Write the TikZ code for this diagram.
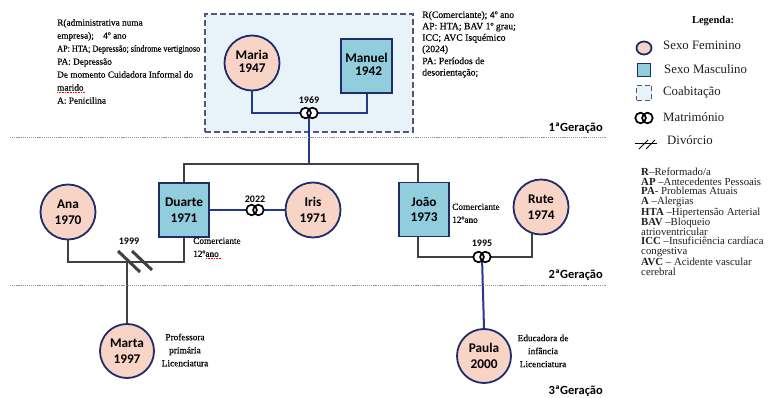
\documentclass[tikz,border=0pt]{standalone}
\usepackage{fontspec}
\usetikzlibrary{shapes.geometric}
\setmainfont{Liberation Serif}
\newfontfamily\carlito{Carlito}
\newfontfamily\notefont{Liberation Serif}[FakeBold=0.35]
\definecolor{femfill}{RGB}{248,212,198}
\definecolor{mascfill}{RGB}{146,205,221}
\definecolor{navyb}{RGB}{30,44,108}
\definecolor{lnavy}{RGB}{36,56,140}
\definecolor{lgray}{RGB}{64,64,64}
\definecolor{cohabfill}{RGB}{232,243,249}
\definecolor{cohabdraw}{RGB}{82,86,122}
\definecolor{sepgray}{RGB}{150,150,150}
\definecolor{legtext}{RGB}{30,30,30}
\newcommand{\namefont}{\carlito\bfseries\fontsize{13.3}{15.5}\selectfont}
\begin{document}
\begin{tikzpicture}[x=1pt,y=-1pt,
  fem/.style={circle,draw=navyb,line width=1.8pt,fill=femfill,minimum size=55pt,inner sep=0pt,align=center,font=\namefont},
  masc/.style={rectangle,draw=navyb,line width=1.8pt,fill=mascfill,minimum width=50pt,minimum height=54pt,inner sep=0pt,align=center,font=\namefont},
  gline/.style={draw=lgray,line width=2.6pt},
  bline/.style={draw=lnavy,line width=2pt},
  yearlbl/.style={font=\carlito\bfseries\fontsize{10}{12}\selectfont,inner sep=0pt},
  note/.style={font=\notefont\fontsize{9.3}{13}\selectfont,inner sep=0pt,align=left},
  gen/.style={font=\carlito\bfseries\fontsize{12.5}{14}\selectfont,inner sep=0pt,anchor=east},
  sepline/.style={draw=sepgray,line width=0.8pt,dash pattern=on 1.2pt off 0.9pt},
  legtxt/.style={font=\fontsize{12.8}{14}\selectfont,inner sep=0pt,anchor=west,text=legtext},
  cohabbox/.style={draw=cohabdraw,fill=cohabfill,line width=2pt,dash pattern=on 6pt off 3pt,inner sep=0pt},
  spell/.style={draw=red,line width=0.5pt,dash pattern=on 0.8pt off 0.8pt},
  rings/.pic={
    \fill[white] (-3.4pt,0pt) circle[radius=5.3pt] (3.4pt,0pt) circle[radius=5.3pt];
    \draw[black,line width=1.7pt] (-3.4pt,0pt) circle[radius=5.3pt] (3.4pt,0pt) circle[radius=5.3pt];
  },
]
\useasboundingbox (0,0) rectangle (771,398);

% ---------- 1st generation ----------
\node[cohabbox,minimum width=208pt,minimum height=118pt] (cohab) at (309,73) {};
\node[fem] (maria) at (252,63) {\raisebox{-3pt}{\begin{tabular}{@{}c@{}}Maria\\[-2pt]1947\end{tabular}}};
\node[masc,minimum width=51pt] (manuel) at (366.5,66) {\raisebox{3pt}{\begin{tabular}{@{}c@{}}Manuel\\[-2pt]\hspace*{4pt}1942\end{tabular}}};
\coordinate (m1) at (309,113);
\coordinate (sib) at (309,164);
\draw[bline] (maria.south) |- (m1) -| (manuel.south);
\draw[bline] (m1) -- (sib);
\pic at (m1) {rings};
\node[yearlbl] (y1969) at (309,100) {1969};

\node[note,anchor=north west] (notemaria) at (57,19) {R(administrativa numa\\empresa);\quad 4º ano\\\scalebox{0.88}[1]{AP: HTA; Depressão; síndrome vertiginoso}\\PA: Depressão\\De momento Cuidadora Informal do\\marido\\A: Penicilina};
\node[note,anchor=north west,font=\notefont\fontsize{9.7}{11.4}\selectfont] (notemanuel) at (422,11) {R(Comerciante); 4º ano\\AP: HTA; BAV 1º grau;\\ICC; AVC Isquémico\\(2024)\\[0.6pt]PA: Períodos de\\desorientação;};

\draw[sepline] (10,137) -- (606,137);
\node[gen] (gen1) at (603,128) {1ªGeração};

% ---------- 2nd generation ----------
\node[fem] (ana) at (68,212) {Ana\\1970};
\node[masc] (duarte) at (184,210) {Duarte\\1971};
\node[fem] (iris) at (313,210) {Iris\\1971};
\node[masc] (joao) at (424,209.5) {João\\1973};
\node[fem] (rute) at (541,207) {Rute\\1974};

\coordinate (joaotop) at (418,182);
\coordinate (joaobot) at (418,237);
\coordinate (rutebot) at (532,233);
\draw[gline] (duarte.north) |- (sib) -| (joaotop);

\coordinate (m2) at (255,210);
\draw[bline] (duarte.east) -- (iris.west);
\pic at (m2) {rings};
\node[yearlbl] (y2022) at (255,199) {2022};

\coordinate (d1) at (127,262);
\coordinate (d1r) at (184,262);
\draw[gline] (ana.south) |- (d1) -- (d1r) -- (duarte.south);
\node[fem,minimum size=54pt] (marta) at (127,351) {Marta\\1997};
\draw[gline] (d1) -- (marta.north);
\draw[lgray,line width=3pt] ([shift={(-9,-11)}]d1) -- ([shift={(13,10)}]d1);
\draw[lgray,line width=3pt] ([shift={(5,-11)}]d1) -- ([shift={(25,8)}]d1);
\node[yearlbl] (y1999) at (129,241) {1999};

\coordinate (m3) at (482,257);
\draw[gline] (joaobot) |- (m3) -| (rutebot);
\node[fem,minimum size=54pt] (paula) at (484,356) {Paula\\2000};
\draw[bline] (m3) -- (paula.north);
\pic at (m3) {rings};
\node[yearlbl] (y1995) at (482,243) {1995};

\node[note,anchor=north west] (noteduarte) at (193,237.5) {Comerciante\\12ºano};
\node[note,anchor=north west] (notejoao) at (452,203.5) {Comerciante\\12ºano};

\draw[sepline] (10,285) -- (606,285);
\node[gen] (gen2) at (603,275) {2ªGeração};

% ---------- 3rd generation ----------
\node[note,align=center,anchor=north] (notemarta) at (185,333.5) {Professora\\primária\\Licenciatura};
\node[note,align=center,anchor=north] (notepaula) at (543,334.5) {Educadora de\\infância\\Licenciatura};
\node[gen] (gen3) at (603,391) {3ªGeração};

% spell-check marks
\draw[spell] ([shift={(0,73.5)}]notemaria.north west) coordinate (sp1) -- ++(28,0);
\draw[spell] (noteduarte.south west) ++(13,1) coordinate (sp2) -- ++(16,0);

% ---------- legend ----------
\node[font=\bfseries\fontsize{10.5}{12}\selectfont,inner sep=0pt] (legtitle) at (713,21) {Legenda:};
\node[ellipse,draw=navyb,fill=femfill,line width=1.8pt,minimum width=15pt,minimum height=13pt,inner sep=0pt] (lfem) at (644,48) {};
\node[legtxt] (tfem) at (663,45) {Sexo Feminino};
\node[rectangle,draw=navyb,fill=mascfill,line width=1.8pt,minimum size=13pt,inner sep=0pt] (lmasc) at (644,70) {};
\node[legtxt] (tmasc) at (664,69) {Sexo Masculino};
\node[cohabbox,line width=1.6pt,dash pattern=on 5pt off 3pt,minimum size=15pt] (lcohab) at (644,93) {};
\node[legtxt] (tcohab) at (663,92) {Coabitação};
\coordinate (lmar) at (644,118);
\pic at (lmar) {rings};
\node[legtxt] (tmar) at (663,117) {Matrimónio};
\coordinate (ldiv) at (645,144);
\draw[black,line width=1pt] ([xshift=-10pt]ldiv) -- ([xshift=12pt]ldiv);
\draw[black,line width=1pt] ([shift={(-6,5)}]ldiv) -- ([shift={(3,-4)}]ldiv);
\draw[black,line width=1pt] ([shift={(1,5)}]ldiv) -- ([shift={(10,-4)}]ldiv);
\node[legtxt] (tdiv) at (667,140) {Divórcio};

\node[anchor=north west,inner sep=0pt,align=left,font=\fontsize{10.8}{9.8}\selectfont,text=legtext] (abbrev) at (641,167.5) {\textbf{R}–Reformado/a\\\textbf{AP} –Antecedentes Pessoais\\\textbf{PA}- Problemas Atuais\\\textbf{A} –Alergias\\\textbf{HTA} –Hipertensão Arterial\\\textbf{BAV} –Bloqueio\\atrioventricular\\\textbf{ICC} –Insuficiência cardíaca\\congestiva\\\textbf{AVC} – Acidente vascular\\cerebral};
\end{tikzpicture}
\end{document}
